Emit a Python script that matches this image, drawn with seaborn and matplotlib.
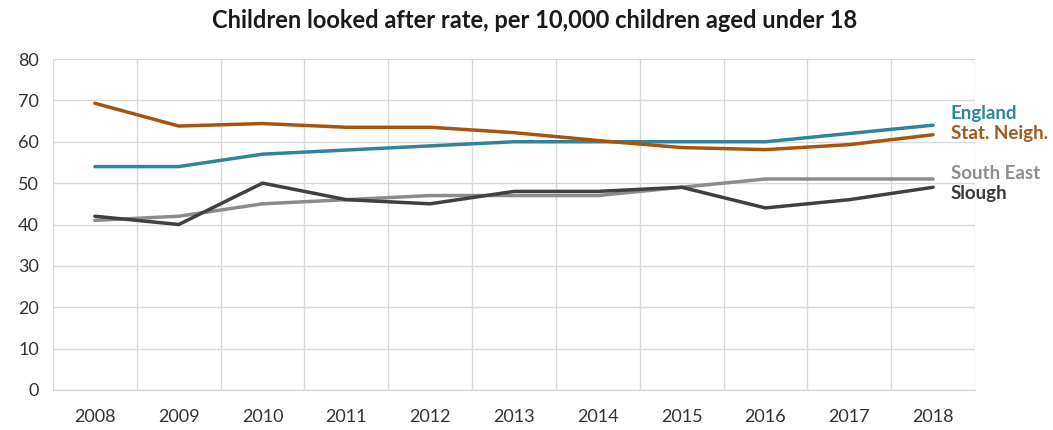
import matplotlib
matplotlib.use("Agg")
import matplotlib.pyplot as plt
import seaborn as sns
import pandas as pd
import numpy as np

years = ["2008", "2009", "2010", "2011", "2012", "2013", "2014", "2015", "2016", "2017", "2018"]
england = [54, 54, 57, 58, 59, 60, 60, 60, 60, 62, 64]
stat_neigh = [69.3, 63.8, 64.4, 63.5, 63.5, 62.2, 60.3, 58.6, 58.1, 59.3, 61.7]
south_east = [41, 42, 45, 46, 47, 47, 47, 49, 51, 51, 51]
slough = [42, 40, 50, 46, 45, 48, 48, 49, 44, 46, 49]

series = ["England", "Stat. Neigh.", "South East", "Slough"]
values = [england, stat_neigh, south_east, slough]
colors = {"England": "#31849B", "Stat. Neigh.": "#A8540F",
          "South East": "#8C8C8C", "Slough": "#404040"}
label_colors = {"England": "#31859C", "Stat. Neigh.": "#A25A1C",
                "South East": "#8E8E8E", "Slough": "#3A3A3A"}
label_y = {"England": 66.9, "Stat. Neigh.": 61.9, "South East": 52.4, "Slough": 47.4}

rows = []
for name, vals in zip(series, values):
    for i, v in enumerate(vals):
        rows.append({"pos": i, "year": years[i], "series": name, "rate": v})
df = pd.DataFrame(rows)

sns.set_theme(style="white")
plt.rcParams["font.family"] = ["Lato", "DejaVu Sans"]

fig = plt.figure(figsize=(10.53, 4.30), dpi=100)
ax = fig.add_axes([53 / 1053, 1 - 390 / 430, (975 - 53) / 1053, (390 - 59) / 430])

sns.lineplot(data=df, x="pos", y="rate", hue="series", hue_order=series,
             palette=colors, linewidth=2.5, legend=False, ax=ax, zorder=3)

ax.set_xlim(-0.5, len(years) - 0.5)
ax.set_ylim(0, 80)
ax.set_yticks(range(0, 81, 10))
ax.set_xticks(range(len(years)))
ax.set_xticklabels(years)
ax.set_xticks(np.arange(-0.5, len(years), 1.0), minor=True)
ax.set_xlabel("")
ax.set_ylabel("")

grid_c = "#D9D9D9"
ax.grid(axis="y", color=grid_c, linewidth=1.0, zorder=0)
ax.grid(axis="x", which="minor", color=grid_c, linewidth=1.0, zorder=0)
ax.grid(axis="x", which="major", visible=False)
for s in ["top", "right", "left"]:
    ax.spines[s].set_visible(False)
ax.spines["bottom"].set_color(grid_c)
ax.spines["bottom"].set_linewidth(1.0)

ax.tick_params(axis="x", which="major", length=0, pad=14, labelsize=13, colors="#333333")
ax.tick_params(axis="x", which="minor", length=6, width=1.0, color=grid_c, direction="out")
ax.tick_params(axis="y", length=0, pad=10, labelsize=13, colors="#333333")

for name in series:
    ax.text(10.21, label_y[name], name, color=label_colors[name], fontsize=13.5,
            fontweight="bold", va="center", ha="left", clip_on=False)

fig.text(0.508, 0.953, "Children looked after rate, per 10,000 children aged under 18",
         ha="center", va="center", fontsize=17, fontweight="bold", color="#1a1a1a")

fig.savefig("out.png", dpi=100, facecolor="white")
